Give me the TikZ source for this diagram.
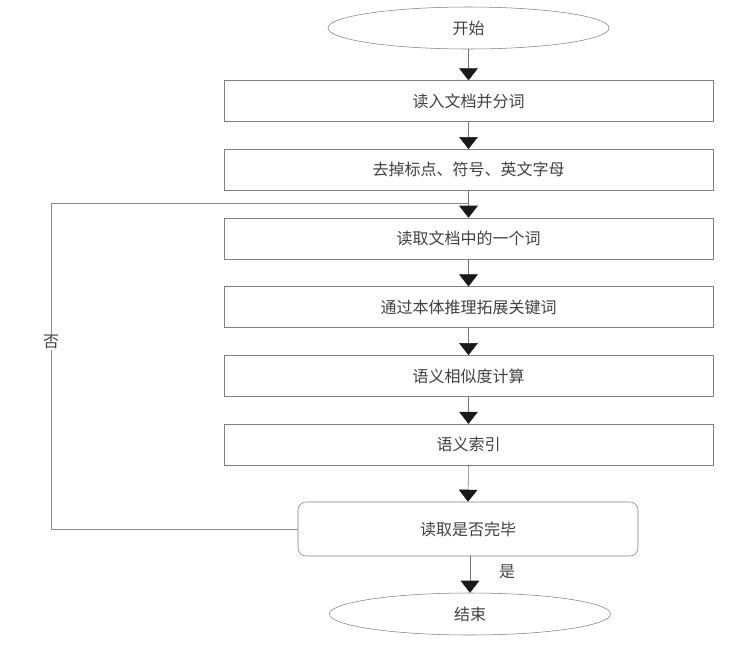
\documentclass[tikz,border=0pt]{standalone}
\usepackage{fontspec}
\setmainfont{Noto Sans CJK SC}
\usetikzlibrary{arrows.meta,shapes.geometric}

\begin{document}
\begin{tikzpicture}[x=0.75pt, y=-0.75pt,
	every node/.style={font=\fontsize{12}{14}\selectfont, text=black!75},
	stepbox/.style={draw=black!50, minimum width=366.75pt, minimum height=30.75pt, inner sep=0pt},
	endbox/.style={ellipse, draw=black!50, minimum width=210.75pt, minimum height=31.5pt, inner sep=0pt},
	testbox/.style={draw=black!50, rounded corners=6pt, minimum width=255pt, minimum height=40.5pt, inner sep=0pt},
	flow/.style={draw=black!55, -{Triangle[width=14pt, length=9pt, color=black!90]}},
	back/.style={draw=black!45}]
	\useasboundingbox (0,0) rectangle (747,644);
	\node[endbox] (start) at (468.5,28) {开始};
	\foreach \name/\txt [count=\i] in {read/读入文档并分词, clean/去掉标点、符号、英文字母, word/读取文档中的一个词, expand/通过本体推理拓展关键词, sim/语义相似度计算, index/语义索引} {\node[stepbox] (\name) at (468.5,32.4+68.7*\i) {\txt};}
	\node[testbox] (check) at (468,529) {读取是否完毕};
	\node[endbox] (stop) at (470,614) {结束};
	\foreach \a/\b in {start/read, read/clean, clean/word, word/expand, expand/sim, sim/index, index/check} {\draw[flow] (\a.south) -- (\b.north);}
	\draw[flow] (check.south -| stop.north) -- (stop.north);
	% loop back when not finished
	\coordinate (lb) at (51,529);
	\coordinate (lt) at (51,203);
	\draw[back] (check.west) -- (lb) -- (lt) -- (word.north |- lt);
	\node[fill=white, inner sep=1pt] (no) at (51,342) {否};
	\node (yes) at (507,572) {是};
\end{tikzpicture}
\end{document}
